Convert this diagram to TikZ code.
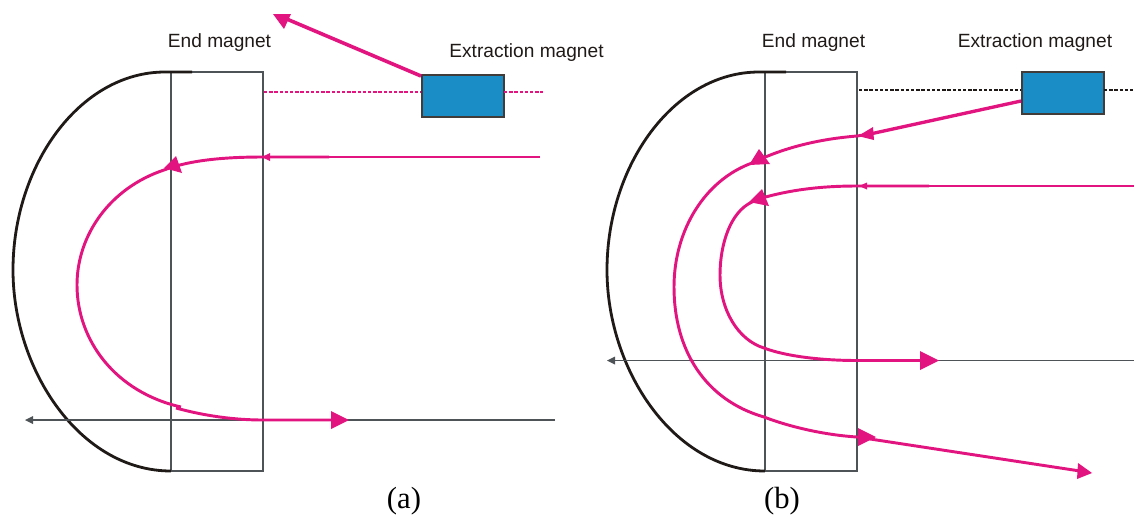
\documentclass[tikz,border=0pt]{standalone}
\usepackage{fontspec}
\setmainfont{Liberation Sans}
\newfontfamily\capfont{Liberation Serif}
\definecolor{beam}{HTML}{E2147F}
\definecolor{magblue}{HTML}{1A8CC6}
\definecolor{frame}{HTML}{4D5356}
\definecolor{yoke}{HTML}{1F1A17}
\tikzset{
  px/.style={x=0.75pt,y=-0.75pt},
  magnetframe/.style={draw=frame,line width=1.25pt,line join=miter},
  yokeline/.style={draw=yoke,line width=2.1pt},
  axisline/.style={draw=frame,line width=1.4pt},
  beamthin/.style={draw=beam,line width=1.3pt},
  beamthick/.style={draw=beam,line width=2.2pt},
  beamdash/.style={line width=1pt,dash pattern=on 2.6pt off 1.3pt},
  head/.style={fill=beam,draw=none},
  axishead/.style={fill=frame,draw=none},
  kicker/.style={draw=yoke!85!white,line width=1.4pt,fill=magblue,rectangle,inner sep=0pt,minimum width=61.5pt,minimum height=31.5pt},
  lab/.style={inner sep=0pt,font=\fontsize{14.35pt}{16pt}\selectfont,text=yoke},
  capt/.style={inner sep=0pt,font=\capfont\fontsize{23pt}{26pt}\selectfont,text=black}
}
\begin{document}
\begin{tikzpicture}[px]
\useasboundingbox (0,0) rectangle (1134,515);
% ---- panel (a)
\coordinate (aTL) at (171,72); \coordinate (aTR) at (263,72);
\coordinate (aBL) at (171,471); \coordinate (aBR) at (263,471);
\draw[magnetframe] (aTL) -- (aTR) -- (aBR) -- (aBL) -- cycle;
\draw[yokeline] (192,72) -- (165,72) .. controls (80,72) and (13,165) .. (13,270) .. controls (13,370) and (80,471) .. (aBL);
\coordinate (aAxisR) at (555,420); \coordinate (aAxisL) at (30,420);
\draw[axisline] (aAxisR) -- (aAxisL);
\fill[axishead] (25,420) -- (33,416) -- (33,424) -- cycle;
\node[kicker,anchor=north west] (aKick) at (421,74) {};
\coordinate (aDashL) at (264,92); \coordinate (aDashR) at (543,92);
\draw[beam,beamdash] (aDashL) -- (421,92) (504,92) -- (aDashR);
\coordinate (aOutS) at (421,76); \coordinate (aOutE) at (282,17);
\draw[beam,line width=2.7pt] (aOutS) -- (aOutE);
\fill[head] (273,14) -- (291,14) -- (284,29) -- cycle;
\coordinate (aIn) at (540,157); \coordinate (aInK) at (329,157);
\draw[beamthin] (aIn) -- (aInK);
\draw[beamthick] (aInK) -- (263,157) .. controls (225,157) and (190,160) .. (164,170) .. controls (110,188) and (77,235) .. (77,285) .. controls (77,340) and (115,392) .. (181,407);
\draw[beamthick] (176,408) .. controls (205,416) and (235,420) .. (263,420) -- (335,420);
\fill[head] (262,157) -- (270,153) -- (270,161) -- cycle;
\fill[head] (176,156) -- (182,173) -- (164,168) -- cycle;
\fill[head] (349,420) -- (331,411) -- (331,429) -- cycle;
\node[lab,anchor=center] (aEnd) at (219.5,43) {End magnet};
\node[lab,anchor=center] (aExt) at (526.5,53) {Extraction magnet};
\node[capt] (aCap) at (404,501) {(a)};
% ---- panel (b)
\coordinate (bTL) at (765,72); \coordinate (bTR) at (857,72);
\coordinate (bBL) at (765,471); \coordinate (bBR) at (857,471);
\draw[magnetframe] (bTL) -- (bTR) -- (bBR) -- (bBL) -- cycle;
\draw[yokeline] (786,72) -- (759,72) .. controls (674,72) and (607,165) .. (607,270) .. controls (607,370) and (674,471) .. (bBL);
\coordinate (bAxisR) at (1134,360.5); \coordinate (bAxisL) at (612,360.5);
\draw[axisline] (bAxisR) -- (bAxisL);
\fill[axishead] (607,360.5) -- (615,356.5) -- (615,364.5) -- cycle;
\node[kicker,anchor=north west] (bKick) at (1021,71) {};
\coordinate (bDashL) at (859,90); \coordinate (bDashR) at (1134,90);
\draw[yoke,beamdash] (bDashL) -- (1021,90) (1104,90) -- (bDashR);
\coordinate (bOutS) at (1021,101); \coordinate (bOutK) at (870,134);
\draw[beam,line width=2.5pt] (bOutS) -- (bOutK);
\draw[beamthick] (bOutK) -- (857,136) .. controls (820,139) and (785,147) .. (752,163) .. controls (705,180) and (674,230) .. (674,287) .. controls (674,350) and (705,400) .. (764,417) .. controls (790,427) and (825,435) .. (857,437) -- (1080,471);
\fill[head] (858,136) -- (873,127) -- (874,140) -- cycle;
\fill[head] (759,149) -- (770,164) -- (749,165) -- cycle;
\fill[head] (858,428) -- (876,437) -- (858,446) -- cycle;
\fill[head] (1092,473) -- (1078,463) -- (1077,479) -- cycle;
\coordinate (bIn) at (1134,186); \coordinate (bInK) at (929,186);
\draw[beamthin] (bIn) -- (bInK);
\draw[beamthick] (bInK) -- (857,186) .. controls (820,186) and (790,190) .. (762,198) -- (752,202) .. controls (730,212) and (720,245) .. (720,275) .. controls (720,310) and (738,340) .. (764,348) .. controls (785,356) and (820,360.5) .. (857,360.5) -- (925,360.5);
\fill[head] (859,186) -- (867,182.5) -- (867,189.5) -- cycle;
\fill[head] (762,189) -- (769,206) -- (749,202) -- cycle;
\fill[head] (939,360.5) -- (920,351) -- (920,370) -- cycle;
\node[lab,anchor=center] (bEnd) at (813.5,43) {End magnet};
\node[lab,anchor=center] (bExt) at (1035,43) {Extraction magnet};
\node[capt] (bCap) at (782,501) {(b)};
\end{tikzpicture}
\end{document}
